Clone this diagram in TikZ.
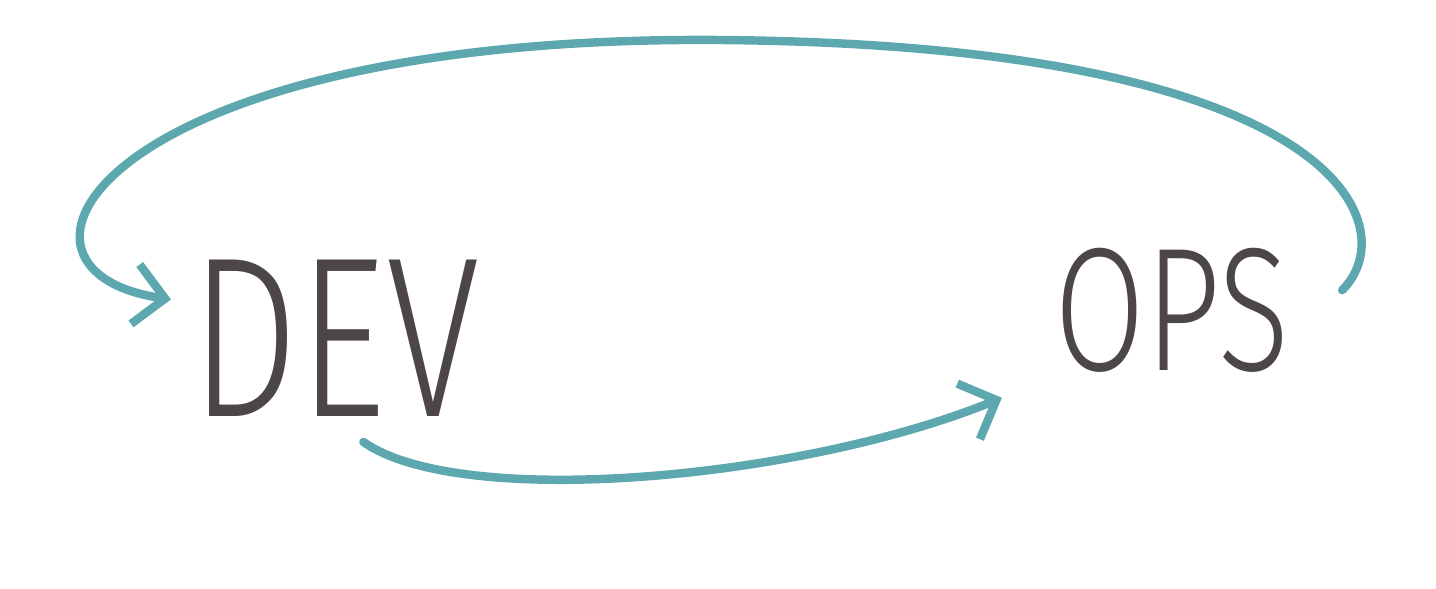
\documentclass[tikz,border=0pt]{standalone}
\usepackage{fontspec}
\newfontfamily\handfont{Fira Sans}[UprightFont=* Light]
\usetikzlibrary{arrows.meta}
\definecolor{penteal}{RGB}{92,168,174}
\definecolor{pencil}{RGB}{76,70,70}

\begin{document}
\begin{tikzpicture}[scale = 1,
  word/.style = {text = pencil, inner sep = 0.25cm, xscale = 0.75},
  flow/.style = {draw = penteal, line width = 2.4pt, line cap = round, -{Straight Barb[length = 3mm, width = 6mm]}}]
\useasboundingbox (0, 0) rectangle (14.36, 5.88);
\node[word, font = \handfont\fontsize{65}{65}\selectfont] (dev) at (3.35, 2.5) {DEV};
\node[word, inner xsep = 0.7cm, font = \handfont\fontsize{50}{50}\selectfont] (ops) at (11.72, 2.78) {OPS};
\draw[flow] (ops.5) .. controls (14.05, 3.6) and (13.45, 5.43) .. (7.2, 5.48) .. controls (1.0, 5.53) and (-0.3, 3.18) .. (dev.170);
\draw[flow] (dev.-70) .. controls (4.6, 0.78) and (8.0, 1.08) .. (ops.south west);
\end{tikzpicture}
\end{document}
